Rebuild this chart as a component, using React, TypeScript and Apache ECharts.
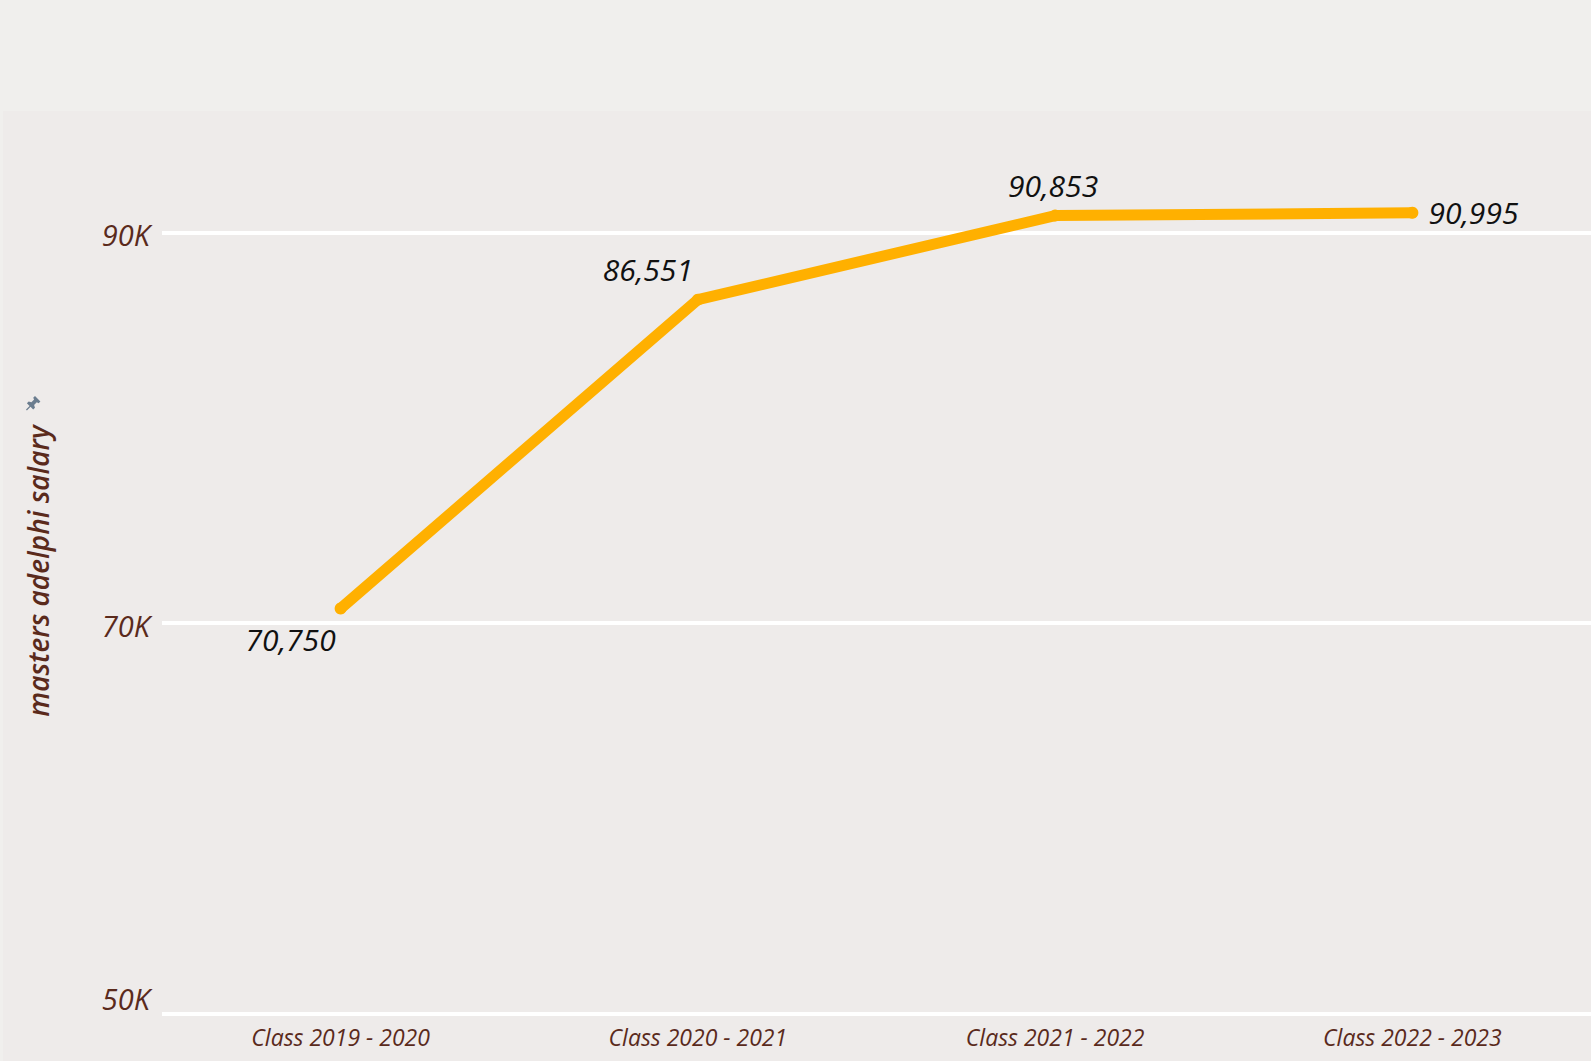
import React, { useEffect, useRef } from "react";
import * as echarts from "echarts";

const categories = ["Class 2019 - 2020", "Class 2020 - 2021", "Class 2021 - 2022", "Class 2022 - 2023"];
const salaries = [70750, 86551, 90853, 90995];
const yTicks = [50000, 70000, 90000];
const yAxisTitle = "masters adelphi salary";

const FONT = "'Open Sans', 'Noto Sans', sans-serif";
const BROWN = "#5a2a1c";

echarts.graphic.registerShape(
  "pin",
  echarts.graphic.extendPath(
    "M10 0 L16 6 L14 8 L12 7 L9 10 L10 13 L8 15 L5 12 L1 16 L0 15 L4 11 L1 8 L3 6 L6 7 L9 4 L8 2 Z",
    {}
  )
);

const labelPlacement = [
  { position: "bottom", distance: 10, offset: [-50, 0] },
  { position: "top", distance: 9, offset: [-50, 0] },
  { position: "top", distance: 9, offset: [-2, 0] },
  { position: "right", distance: 10, offset: [0, 0] },
];

export default function App() {
  const ref = useRef<HTMLDivElement>(null);
  useEffect(() => {
    if (!ref.current) return;
    const chart = echarts.init(ref.current, null, { renderer: "svg" });
    const option = {
      animation: false,
      backgroundColor: "#f0efed",
      grid: { left: 162, right: 0, top: 115, bottom: 47, containLabel: false },
      graphic: [
        {
          type: "rect",
          z: -10,
          shape: { x: 3, y: 111, width: 1600, height: 1000 },
          style: { fill: "#eeebea" },
          silent: true,
        },
        {
          type: "text",
          x: 38,
          y: 571,
          rotation: Math.PI / 2,
          style: {
            text: yAxisTitle,
            fill: BROWN,
            font: `italic 600 28px ${FONT}`,
            textAlign: "center",
            textVerticalAlign: "middle",
          },
        },
        {
          type: "pin",
          x: 26,
          y: 396,
          scaleX: 0.9,
          scaleY: 0.9,
          style: { fill: "#6b7d8f" },
        },
      ],
      xAxis: {
        type: "category",
        data: categories,
        boundaryGap: true,
        axisLine: { show: false },
        axisTick: { show: false },
        splitLine: { show: false },
        axisLabel: {
          color: BROWN,
          fontStyle: "italic",
          fontWeight: 500,
          fontFamily: FONT,
          fontSize: 23,
          margin: 11,
        },
      },
      yAxis: {
        type: "value",
        min: 50000,
        max: 96000,
        axisLine: { show: false },
        axisTick: { show: false },
        axisLabel: { show: false },
        splitLine: { show: false },
      },
      series: [
        {
          type: "line",
          data: [],
          z: 1,
          silent: true,
          markLine: {
            z: 1,
            silent: true,
            symbol: ["none", "none"],
            lineStyle: { color: "#ffffff", width: 4, type: "solid" },
            label: {
              position: "start",
              distance: 12,
              color: BROWN,
              fontStyle: "italic",
              fontWeight: 500,
              fontFamily: FONT,
              fontSize: 29,
              formatter: (p: any) => `${Math.round(p.value / 1000)}K`,
            },
            data: yTicks.map((v, i) => ({
              yAxis: v,
              label: { offset: i === 0 ? [0, -16] : [0, 2] },
            })),
          },
        },
        {
          type: "line",
          z: 10,
          data: salaries.map((v, i) => ({
            value: v,
            label: {
              show: true,
              position: labelPlacement[i].position,
              distance: labelPlacement[i].distance,
              offset: labelPlacement[i].offset,
            },
          })),
          symbol: "circle",
          symbolSize: 12,
          showSymbol: true,
          itemStyle: { color: "#ffb000" },
          lineStyle: { color: "#ffb000", width: 11, cap: "round", join: "round" },
          label: {
            show: true,
            color: "#111111",
            fontStyle: "italic",
            fontWeight: 500,
            fontFamily: FONT,
            fontSize: 30,
            formatter: (p: any) => Number(p.value).toLocaleString("en-US"),
          },
        },
      ],
    };
    chart.setOption(option as any);
    return () => chart.dispose();
  }, []);
  return (
    <div
      ref={ref}
      style={{ position: "absolute", left: 0, top: 0, width: 1591, height: 1061 }}
    />
  );
}
